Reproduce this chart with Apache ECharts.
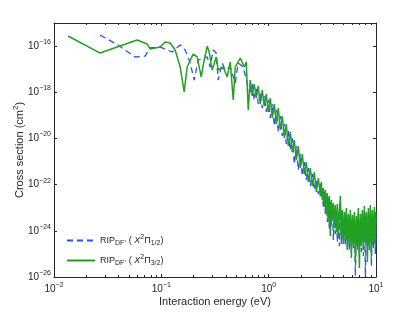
<!DOCTYPE html>
<html><head><meta charset="utf-8">
<script src="https://cdn.jsdelivr.net/npm/echarts@6/dist/echarts.min.js"></script>
<style>html,body{margin:0;padding:0;background:#fff}#c{width:415px;height:313px}</style>
</head><body><div id="c"></div>
<script>
// ---- data (energy in eV, cross section in cm^2) ----
const energyLowHalf = [0.0269,0.0395,0.0570,0.0706,0.0786,0.0974,0.1261,0.1498,0.1667,0.1856,0.2023,0.2205,0.2675,0.2852,0.3042,0.3245,0.3388,0.3692,0.3937,0.4384,0.4881,0.5206,0.5796,0.6453];
const sigmaLowHalf  = [3.0e-16,1.11e-16,3.37e-17,3.7e-17,8.3e-17,9.1e-17,5.55e-17,1.11e-16,6.8e-17,1.85e-17,3.4e-18,2.5e-17,3.4e-17,1.24e-17,6.8e-17,5.0e-17,3.4e-18,1.85e-17,9.2e-18,1.24e-17,2.52e-18,1.85e-17,1.24e-17,1.53e-18];

const energyLowThreeHalf = [0.01352,0.0269,0.0595,0.0737,0.0786,0.0974,0.1085,0.1208,0.1345,0.1498,0.1632,0.1740,0.1980,0.2158,0.2351,0.2508,0.2675,0.2792,0.2978,0.3245,0.3388,0.3772,0.4110,0.4384,0.4676,0.4881,0.5435,0.5673,0.5923,0.6180,0.6453];
const sigmaLowThreeHalf  = [2.73e-16,5.0e-17,1.83e-16,1.23e-16,7.5e-17,9.1e-17,1.5e-16,1.36e-16,6.8e-17,1.24e-17,1.03e-18,1.24e-17,4.5e-17,3.4e-17,4.6e-18,2.5e-17,1.0e-16,5.5e-17,9.2e-18,3.4e-17,9.2e-18,1.24e-17,4.6e-18,2.05e-17,4.6e-19,1.24e-17,3.05e-17,2.5e-17,1.24e-17,2.05e-17,1.71e-19];

const energyGrid = [0.6737,0.7031,0.7340,0.7661,0.7998,0.8349,0.8715,0.9098,0.9497,0.9914,1.035,1.080,1.128,1.177,1.229,1.283,1.339,1.398,1.459,1.523,1.590,1.660,1.733,1.809,1.888,1.971,2.058,2.148,2.242,2.341,2.444,2.551,2.663,2.780,2.902,3.029,
 3.095,3.162,3.231,3.301,3.373,3.445,3.520,3.597,3.675,3.754,3.836,3.919,4.004,4.091,4.180,4.271,4.364,4.459,4.556,4.654,4.756,4.859,4.964,5.072,5.182,5.295,5.410,5.527,5.647,5.770,5.895,6.024,6.154,6.288,6.425,6.564,6.707,6.852,7.001,7.153,7.308,7.467,7.629,7.795,7.964,8.137,8.314,8.494,8.679,8.867,9.060,9.256,9.457,9.663,9.873,10.0];

const sigmaGridHalf = [1.03e-18,2.28e-18,4.6e-19,1.53e-18,3.1e-19,1.03e-18,2.08e-19,6.9e-19,1.4e-19,4.6e-19,7.7e-20,3.1e-19,3.46e-20,1.71e-19,1.9e-20,9.4e-20,1.28e-20,4.2e-20,5.75e-21,2.32e-20,3.16e-21,1.05e-20,7.8e-22,4.7e-21,4.3e-22,2.12e-21,2.36e-22,9.5e-22,1.59e-22,5.25e-22,8.7e-23,2.9e-22,5.85e-23,1.59e-22,3.93e-23,1.07e-22,
 2.63e-23,7.1e-23,9.7e-24,4.8e-23,5.35e-24,3.56e-23,2.41e-24,2.63e-23,1.08e-24,1.77e-23,1.62e-24,1.31e-23,4.0e-25,9.7e-24,7.3e-25,7.96e-24,3.28e-25,6.5e-24,2.2e-25,5.35e-24,2.68e-25,6.5e-24,2.68e-25,4.38e-24,2.2e-25,5.35e-24,1.48e-25,3.59e-24,1.48e-25,4.84e-24,1.21e-25,3.59e-24,1.8e-25,2.94e-24,1.1e-26,3.59e-24,1.48e-25,5.35e-24,1.21e-25,3.59e-24,1.21e-25,5.35e-24,8.1e-26,6.5e-24,1.1e-26,4.38e-24,1.8e-25,6.5e-24,1.48e-25,4.38e-24,2.99e-26,5.35e-24,1.8e-25,4.38e-24,8.1e-26,3.59e-24];

const sigmaGridThreeHalf = [3.4e-18,6.9e-19,2.28e-18,5.65e-19,1.87e-18,3.1e-19,1.25e-18,2.55e-19,8.4e-19,1.4e-19,5.65e-19,7.7e-20,3.1e-19,4.2e-20,2.08e-19,2.32e-20,9.4e-20,1.05e-20,4.2e-20,4.7e-21,1.9e-20,2.6e-21,8.6e-21,1.17e-21,4.7e-21,5.25e-22,2.12e-21,2.9e-22,9.5e-22,1.3e-22,5.25e-22,8.7e-23,3.5e-22,4.8e-23,1.94e-22,3.2e-23,
 1.3e-22,2.16e-23,7.1e-23,1.07e-23,5.85e-23,5.35e-24,4.35e-23,2.41e-24,3.2e-23,5.96e-25,2.16e-23,3.59e-24,1.6e-23,1.32e-24,1.31e-23,8.9e-25,1.45e-23,4.88e-25,6.5e-24,3.2e-23,5.96e-25,7.96e-24,2.68e-25,6.5e-24,4.0e-25,9.7e-24,1.48e-25,5.35e-24,3.28e-25,7.96e-24,6.65e-26,4.84e-24,2.68e-25,6.5e-24,4.46e-26,4.38e-24,2.2e-25,9.7e-24,2.45e-26,5.35e-24,2.68e-25,7.96e-24,1.48e-25,1.19e-23,3.28e-25,6.5e-24,4.46e-26,9.7e-24,2.2e-25,1.31e-23,8.1e-26,7.96e-24,3.28e-25,1.07e-23,1.8e-25,6.5e-24];

const xTickExponents = [-2, -1, 0, 1];
const yTickExponents = [-26, -24, -22, -20, -18, -16];
const legendHalf = 'half';
const legendThreeHalf = 'threehalf';

// ---- build ----
const pairs = (es, ss) => es.map((e, i) => [e, ss[i]]);
const dataHalf = pairs(energyLowHalf, sigmaLowHalf).concat(pairs(energyGrid, sigmaGridHalf));
const dataThreeHalf = pairs(energyLowThreeHalf, sigmaLowThreeHalf).concat(pairs(energyGrid, sigmaGridThreeHalf));

const FONT = 'Liberation Sans, Arial, Helvetica, sans-serif';
const AX = '#262626';
const powLabel = (e) => '{b|10}{e|' + String(e).replace('-', '\u2212') + '}';
const xLabel = (v, idx) => {
  let e = (v > 0) ? Math.round(Math.log10(v)) : xTickExponents[idx];
  return xTickExponents.includes(e) ? powLabel(e) : '';
};
const yLabel = (v) => {
  const e = Math.round(v);
  return yTickExponents.includes(e) ? powLabel(e) : '';
};
const tickRich = {
  b: { fontSize: 10, fontFamily: FONT, color: AX },
  e: { fontSize: 7, fontFamily: FONT, color: AX, padding: [0, 0, 8, 0] }
};
const axisCommon = {
  axisLine: { show: true, onZero: false, lineStyle: { color: AX, width: 1 } },
  splitLine: { show: false },
};
const rect = { left: 54, top: 23, width: 322, height: 254, containLabel: false, outerBoundsMode: 'none' };

const chart = echarts.init(document.getElementById('c'), null, { renderer: 'canvas' });
chart.setOption({
  animation: false,
  backgroundColor: '#fff',
  grid: [Object.assign({}, rect), Object.assign({}, rect)],
  xAxis: [
    Object.assign({}, axisCommon, {
      gridIndex: 0, type: 'log', min: 0.01, max: 10, position: 'bottom',
      axisTick: { show: true, inside: true, length: 3, lineStyle: { color: AX } },
      minorTick: { show: true, splitNumber: 9, length: 2, lineStyle: { color: AX } },
      axisLabel: { margin: 5, showMinLabel: true, showMaxLabel: true, hideOverlap: false, formatter: xLabel, rich: tickRich },
      name: 'Interaction energy (eV)', nameLocation: 'middle', nameGap: 19, nameMoveOverlap: false,
      nameTextStyle: { fontSize: 11, fontFamily: FONT, color: AX }
    }),
    Object.assign({}, axisCommon, {
      gridIndex: 0, type: 'log', min: 0.01, max: 10, position: 'top',
      axisTick: { show: true, inside: true, length: 3, lineStyle: { color: AX } },
      minorTick: { show: true, splitNumber: 9, length: 2, lineStyle: { color: AX } },
      axisLabel: { show: false }
    }),
    { gridIndex: 1, type: 'value', show: false, min: 0, max: 1 }
  ],
  yAxis: [
    Object.assign({}, axisCommon, {
      gridIndex: 0, type: 'log', logBase: 100, min: 1e-26, max: 1e-15, position: 'left',
      axisTick: { show: true, inside: true, length: 3, lineStyle: { color: AX } },
      axisLabel: { show: false },
      name: '{n|Cross section (cm}{s|2}{n|)}', nameLocation: 'middle', nameGap: 27, nameMoveOverlap: false,
      nameTextStyle: { rich: {
        n: { fontSize: 11, fontFamily: FONT, color: AX },
        s: { fontSize: 8, fontFamily: FONT, color: AX, padding: [0, 0, 7, 0] }
      } }
    }),
    Object.assign({}, axisCommon, {
      gridIndex: 0, type: 'log', logBase: 100, min: 1e-26, max: 1e-15, position: 'right',
      axisTick: { show: true, inside: true, length: 3, lineStyle: { color: AX } },
      axisLabel: { show: false }
    }),
    {
      // exponent (decade) scale carrying the tick labels of the log axis
      gridIndex: 1, type: 'value', min: -26, max: -15, interval: 2, position: 'left',
      axisLine: { show: false }, axisTick: { show: false }, splitLine: { show: false },
      axisLabel: { margin: 3, showMinLabel: true, showMaxLabel: true, hideOverlap: false, formatter: yLabel, rich: tickRich }
    }
  ],
  legend: {
    orient: 'vertical', left: 66, top: 234, padding: 0,
    itemWidth: 28, itemHeight: 12, itemGap: 7,
    itemStyle: { opacity: 0 },
    data: [legendHalf, legendThreeHalf],
    formatter: (n) => '{r|RIP}{sub|DF\u207A}{r| ( }{it|X}{sup|2}{r|\u03A0}{sub|' + (n === legendHalf ? '1/2' : '3/2') + '}{r|)}',
    textStyle: { rich: {
      r: { fontSize: 9, fontFamily: FONT, color: AX },
      it: { fontSize: 9, fontFamily: FONT, fontStyle: 'italic', color: AX },
      sub: { fontSize: 7, fontFamily: FONT, color: AX, padding: [6, 0, 0, 0] },
      sup: { fontSize: 7, fontFamily: FONT, color: AX, padding: [0, 0, 6, 0] }
    } }
  },
  series: [
    { name: legendHalf, type: 'line', xAxisIndex: 0, yAxisIndex: 0, data: dataHalf, symbol: 'none', showSymbol: false,
      lineStyle: { color: '#2f4ff0', width: 1.3, type: [6, 4] }, itemStyle: { color: '#2f4ff0' } },
    { name: legendThreeHalf, type: 'line', xAxisIndex: 0, yAxisIndex: 0, data: dataThreeHalf, symbol: 'none', showSymbol: false,
      lineStyle: { color: '#22a022', width: 1.5 }, itemStyle: { color: '#22a022' } }
  ]
});
</script></body></html>
